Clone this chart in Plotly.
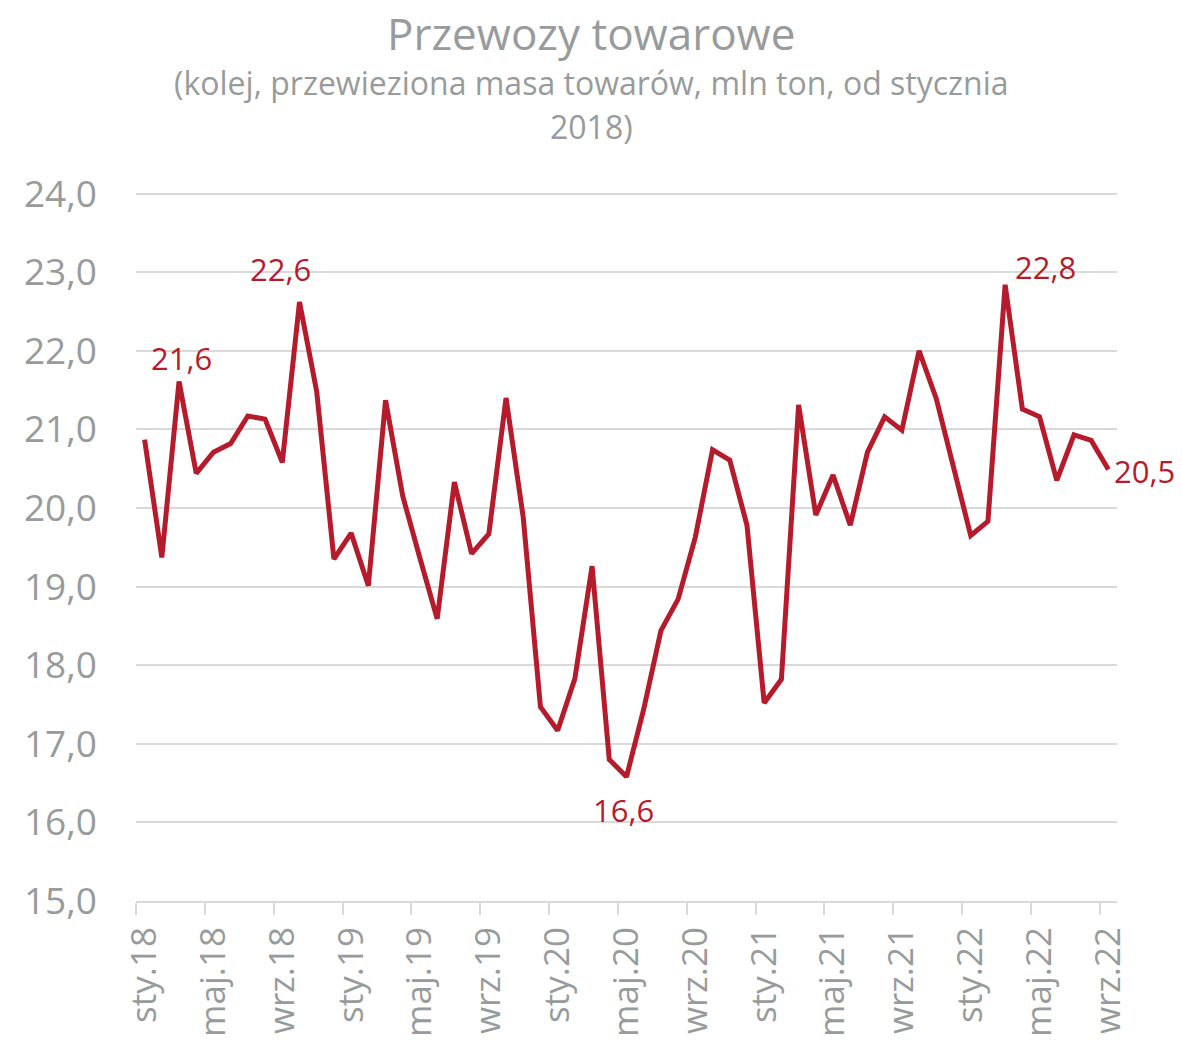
import plotly.graph_objects as go

# Monthly rail freight, mln tonnes, sty.18 .. wrz.22 (57 months)
values = [
    20.87, 19.37, 21.61, 20.44, 20.71, 20.82, 21.17, 21.13, 20.58, 22.62, 21.48, 19.35,
    19.68, 19.01, 21.37, 20.15, 19.36, 18.59, 20.33, 19.42, 19.67, 21.40, 19.88, 17.47,
    17.17, 17.83, 19.26, 16.80, 16.58, 17.44, 18.44, 18.84, 19.63, 20.74, 20.61, 19.78,
    17.52, 17.82, 21.31, 19.91, 20.42, 19.78, 20.71, 21.16, 20.99, 22.00, 21.39, 20.52,
    19.65, 19.83, 22.84, 21.26, 21.16, 20.35, 20.93, 20.86, 20.49,
]
tick_labels = ["sty.18", "maj.18", "wrz.18", "sty.19", "maj.19", "wrz.19", "sty.20",
               "maj.20", "wrz.20", "sty.21", "maj.21", "wrz.21", "sty.22", "maj.22", "wrz.22"]
label_points = [2, 9, 28, 50, 56]
label_shifts = [(2, 23), (-19, 33), (-3, -33), (40, 18), (36, -2)]

x = list(range(len(values)))
tick_vals = list(range(0, len(values), 4))
minor_vals = [v - 0.5 for v in tick_vals]

RED = "#B61B2B"
GRAY = "#989B9B"
GRID = "#D9D9D9"
FONT = "Open Sans"

fig = go.Figure()
fig.add_trace(go.Scatter(x=x, y=values, mode="lines",
                         line=dict(color=RED, width=5), hoverinfo="skip"))

for i, (dx, dy) in zip(label_points, label_shifts):
    fig.add_annotation(x=i, y=values[i], text=f"{values[i]:.1f}".replace(".", ","),
                       showarrow=False, xshift=dx, yshift=dy,
                       font=dict(family=FONT, size=31, color=RED))

fig.add_annotation(xref="paper", yref="paper", x=0.464, y=1.224, yanchor="middle",
                   text="Przewozy towarowe", showarrow=False,
                   font=dict(family=FONT, size=44, color=GRAY))
fig.add_annotation(xref="paper", yref="paper", x=0.464, y=1.155, yanchor="middle",
                   text="(kolej, przewieziona masa towarów, mln ton, od stycznia",
                   showarrow=False, font=dict(family=FONT, size=32, color=GRAY))
fig.add_annotation(xref="paper", yref="paper", x=0.464, y=1.093, yanchor="middle",
                   text="2018)", showarrow=False, font=dict(family=FONT, size=32, color=GRAY))

fig.update_xaxes(range=[-0.5, len(values) - 0.5], tickmode="array", tickvals=tick_vals,
                 ticktext=tick_labels, ticks="", tickangle=-90, showgrid=False,
                 showline=True, linecolor=GRID, linewidth=2, zeroline=False,
                 ticklabelstandoff=10, automargin=False,
                 tickfont=dict(family=FONT, size=35, color=GRAY),
                 minor=dict(tickmode="array", tickvals=minor_vals, ticks="outside",
                            ticklen=12, tickwidth=2, tickcolor=GRID, showgrid=False))
fig.update_yaxes(range=[15, 24.02], tickmode="array", tickvals=list(range(15, 25)),
                 tickformat=".1f", showgrid=True,
                 gridcolor=GRID, gridwidth=2, zeroline=False, showline=False,
                 ticklabelstandoff=38, automargin=False,
                 tickfont=dict(family=FONT, size=37, color=GRAY))

fig.update_layout(width=1182, height=1046, separators=", ",
                  margin=dict(l=136, r=65, t=192, b=145),
                  plot_bgcolor="white", paper_bgcolor="white", showlegend=False)

fig.write_html("out.html", config={"displayModeBar": False},
               post_script="document.body.style.margin='0';")
